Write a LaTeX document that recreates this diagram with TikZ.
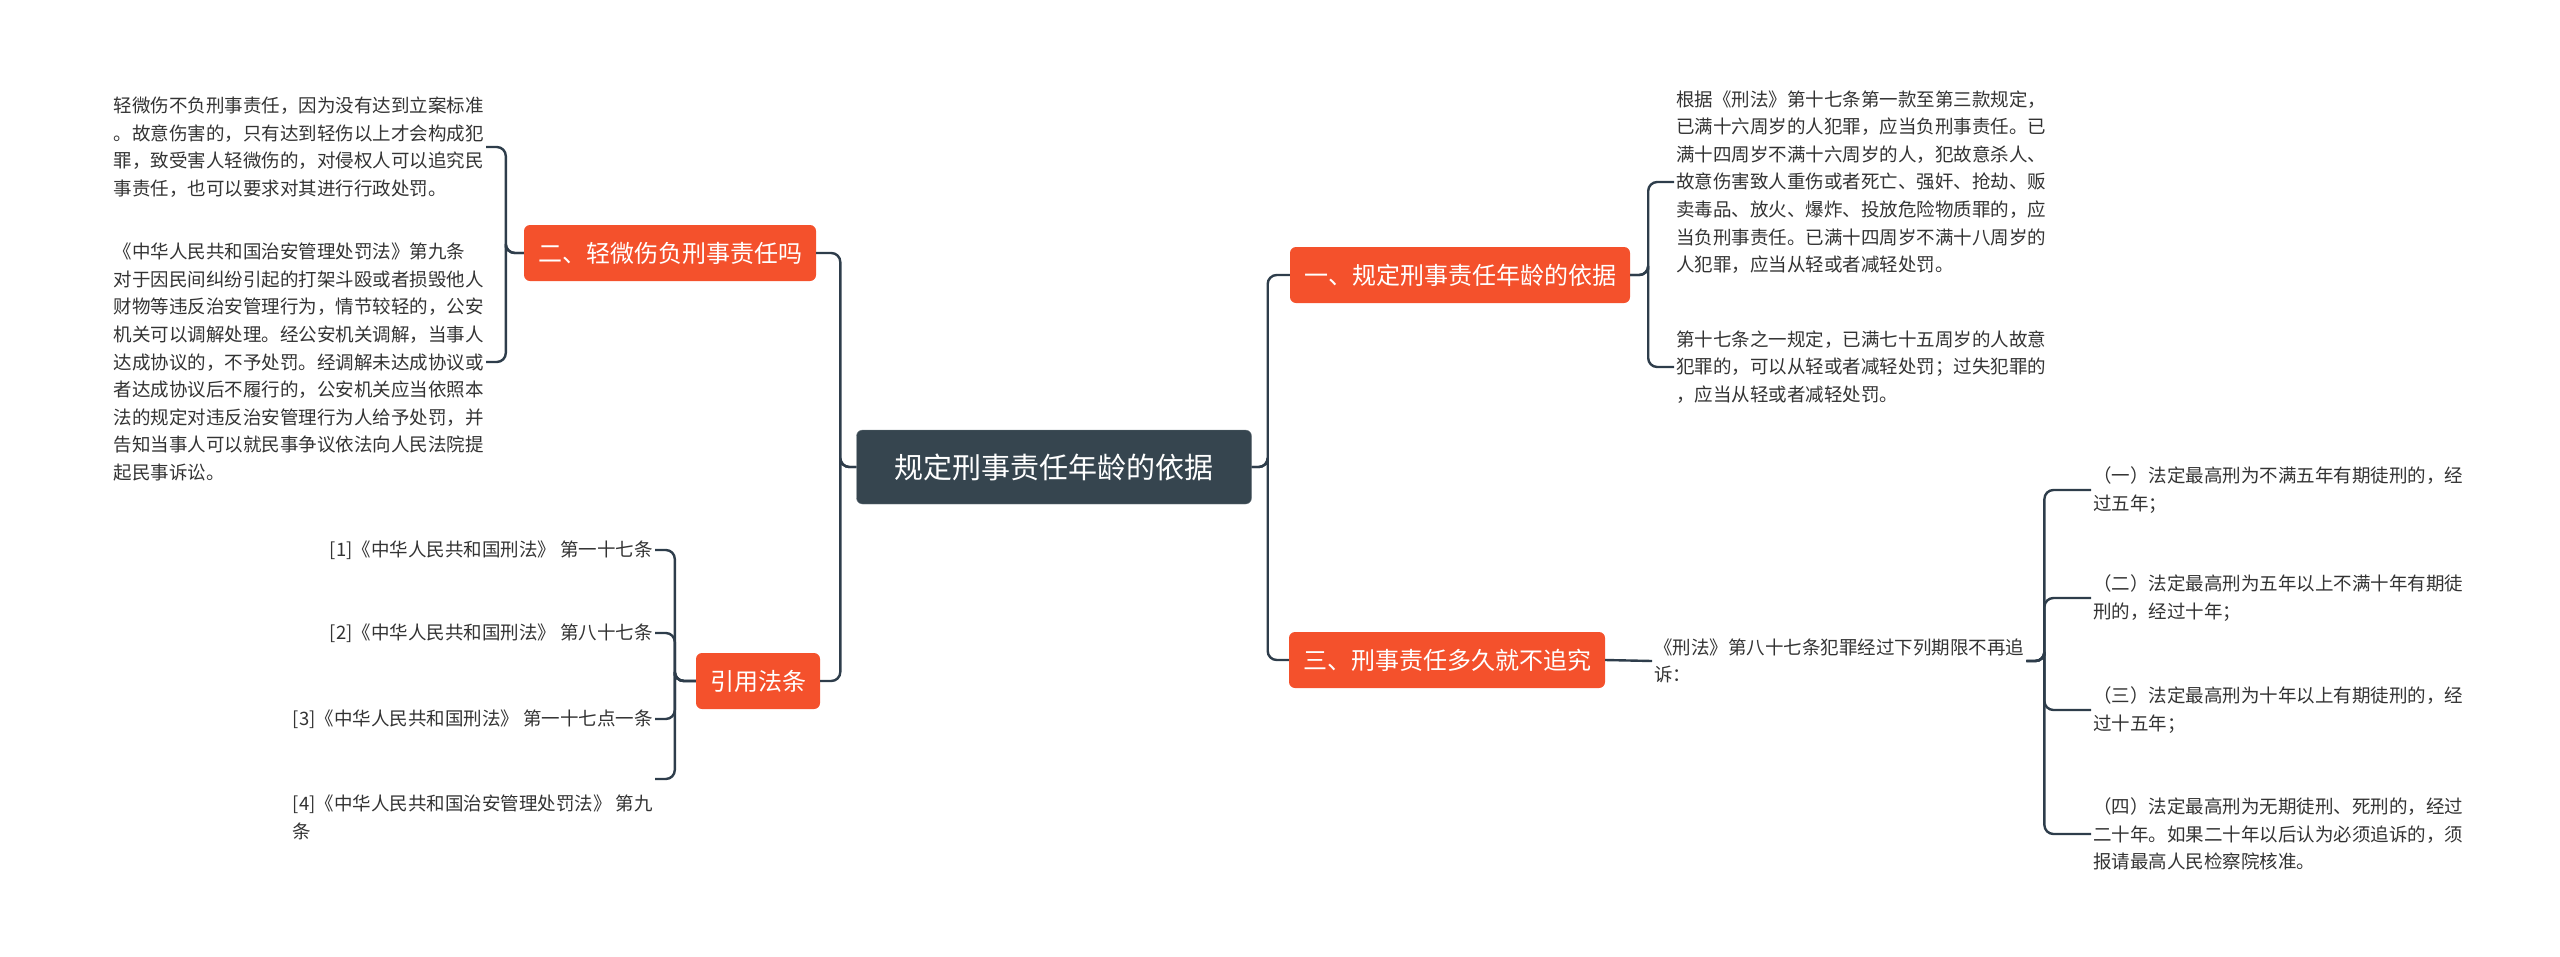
\documentclass[tikz,border=0pt]{standalone}
\usepackage{fontspec}
\setmainfont{Noto Sans CJK SC}
\usetikzlibrary{positioning,calc}
\definecolor{linecol}{HTML}{2E3D4B}
\definecolor{rootcol}{HTML}{36454F}
\definecolor{branchcol}{HTML}{F4512C}
\definecolor{txtcol}{HTML}{333333}
\tikzset{
  rootbox/.style={fill=rootcol,draw=rootcol!70!white,rounded corners=6pt,text=white,
    minimum width=395pt,minimum height=74pt,font=\fontsize{29}{34}\selectfont},
  branchbox/.style={fill=branchcol,rounded corners=6pt,text=white,
    minimum height=56pt,inner xsep=14pt,font=\fontsize{24}{30}\selectfont},
  leaftext/.style={text=txtcol,align=left,inner sep=2pt,font=\fontsize{18.5}{27.6}\selectfont},
  link/.style={draw=linecol,line width=2.4pt,rounded corners=9pt}
}
\begin{document}
\begin{tikzpicture}[x=1pt,y=-1pt]
		\useasboundingbox (0,0) rectangle (2560,956);
		% root and main branches
		\node[rootbox] (root) at (1054,467) {规定刑事责任年龄的依据};
		\node[branchbox] (b1) at (1460,275) {一、规定刑事责任年龄的依据};
		\node[branchbox] (b3) at (1447,660) {三、刑事责任多久就不追究};
		\node[branchbox] (b2) at (670,253) {二、轻微伤负刑事责任吗};
		\node[branchbox] (b4) at (758,681) {引用法条};

		% left side texts
		\node[leaftext,anchor=east] (t21) at (486,147) {轻微伤不负刑事责任，因为没有达到立案标准\\。故意伤害的，只有达到轻伤以上才会构成犯\\罪，致受害人轻微伤的，对侵权人可以追究民\\事责任，也可以要求对其进行行政处罚。};
		\node[leaftext,anchor=east] (t22) at (486,362) {《中华人民共和国治安管理处罚法》第九条\phantom{对}\\对于因民间纠纷引起的打架斗殴或者损毁他人\\财物等违反治安管理行为，情节较轻的，公安\\机关可以调解处理。经公安机关调解，当事人\\达成协议的，不予处罚。经调解未达成协议或\\者达成协议后不履行的，公安机关应当依照本\\法的规定对违反治安管理行为人给予处罚，并\\告知当事人可以就民事争议依法向人民法院提\\起民事诉讼。};

		% citations
		\node[leaftext,anchor=east] (c1) at (655,550) {[1]《中华人民共和国刑法》 第一十七条};
		\node[leaftext,anchor=east] (c2) at (655,633) {[2]《中华人民共和国刑法》 第八十七条};
		\node[leaftext,anchor=east] (c3) at (655,719) {[3]《中华人民共和国刑法》 第一十七点一条};
		\node[leaftext,anchor=north east] (c4) at (655,793) {[4]《中华人民共和国治安管理处罚法》 第九\\条\phantom{《中华人民共和国治安管理处罚法》 第九}};
		\coordinate (c4e) at ($(c4.north east)+(0,-14)$);

		% right side texts
		\node[leaftext,anchor=west] (t11) at (1674,182) {根据《刑法》第十七条第一款至第三款规定，\\已满十六周岁的人犯罪，应当负刑事责任。已\\满十四周岁不满十六周岁的人，犯故意杀人、\\故意伤害致人重伤或者死亡、强奸、抢劫、贩\\卖毒品、放火、爆炸、投放危险物质罪的，应\\当负刑事责任。已满十四周岁不满十八周岁的\\人犯罪，应当从轻或者减轻处罚。};
		\node[leaftext,anchor=west] (t12) at (1674,367) {第十七条之一规定，已满七十五周岁的人故意\\犯罪的，可以从轻或者减轻处罚；过失犯罪的\\，应当从轻或者减轻处罚。};
		\node[leaftext,anchor=west] (t31) at (1652,661) {《刑法》第八十七条犯罪经过下列期限不再追\\诉：};

		\node[leaftext,anchor=west] (p1) at (2091,490) {（一）法定最高刑为不满五年有期徒刑的，经\\过五年；};
		\node[leaftext,anchor=west] (p2) at (2091,598) {（二）法定最高刑为五年以上不满十年有期徒\\刑的，经过十年；};
		\node[leaftext,anchor=west] (p3) at (2091,710) {（三）法定最高刑为十年以上有期徒刑的，经\\过十五年；};
		\node[leaftext,anchor=west] (p4) at (2091,834) {（四）法定最高刑为无期徒刑、死刑的，经过\\二十年。如果二十年以后认为必须追诉的，须\\报请最高人民检察院核准。};

		% connectors
		\foreach \b in {b1,b3}
			\draw[link] (root.east) -| ($(root.east)+(16,0)$) |- (\b.west);
		\foreach \b in {b2,b4}
			\draw[link] (root.west) -| ($(root.west)+(-16,0)$) |- (\b.east);
		\foreach \t in {t21,t22}
			\draw[link] (b2.west) -| ($(b2.west)+(-18,0)$) |- (\t.east);
		\foreach \t in {c1.east,c2.east,c3.east,c4e}
			\draw[link] (b4.west) -| ($(b4.west)+(-21,0)$) |- (\t);
		\foreach \t in {t11,t12}
			\draw[link] (b1.east) -| ($(b1.east)+(18,0)$) |- (\t.west);
		\draw[link] (b3.east) -- (t31.west);
		\foreach \t in {p1,p2,p3,p4}
			\draw[link] (t31.east) -| ($(t31.east)+(18,0)$) |- (\t.west);
	\end{tikzpicture}
\end{document}
